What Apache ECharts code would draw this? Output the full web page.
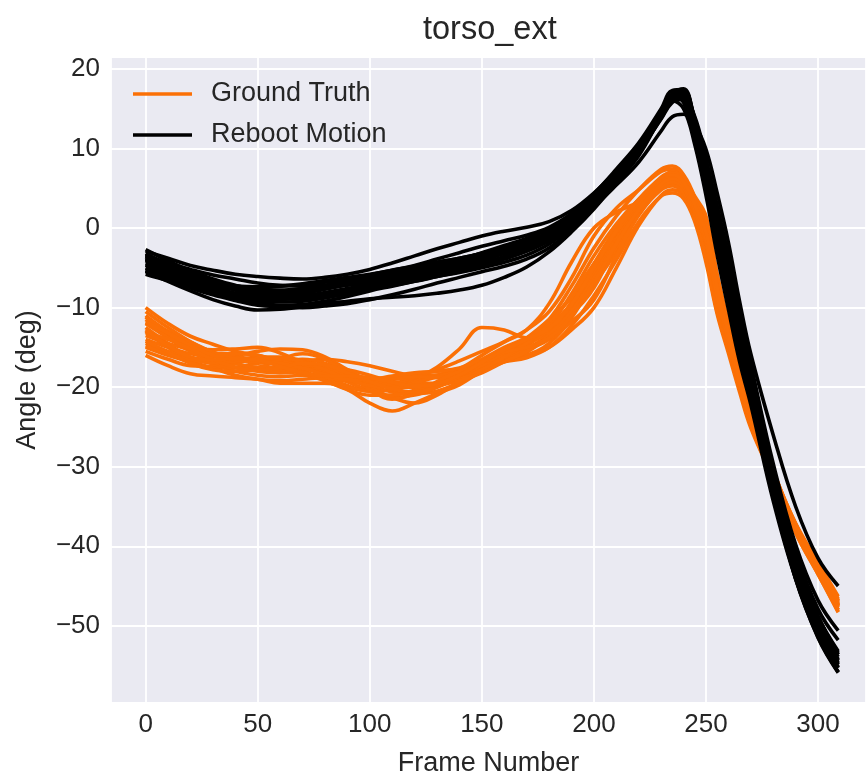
<!DOCTYPE html>
<html>
<head>
<meta charset="utf-8">
<title>torso_ext</title>
<script src="https://cdn.jsdelivr.net/npm/echarts@6/dist/echarts.min.js"></script>
<style>
    html, body { margin: 0; padding: 0; background: #fff; }
    #chart { width: 866px; height: 782px; }
</style>
</head>
<body>
<div id="chart"></div>
<script>
var frames = [0,10,20,30,40,50,60,70,80,90,100,110,120,130,140,150,160,170,180,190,200,210,220,230,235,240,245,250,255,260,265,270,280,290,300,309];

// Ground Truth runs (deg)
var gt01 = [-10.0,-12.0,-13.6,-14.6,-15.5,-16.0,-16.7,-16.7,-16.5,-16.8,-17.3,-18.0,-18.5,-18.5,-17.7,-16.0,-14.3,-12.8,-10.5,-6.3,-1.0,2.5,4.8,7.1,7.4,6.4,3.3,1.2,-5.8,-11.9,-17.9,-23.3,-30.5,-37.5,-42.5,-47.0];
var gt02 = [-16.0,-17.3,-18.3,-18.6,-18.8,-19.0,-19.5,-19.5,-19.5,-20.3,-22.0,-23.0,-22.0,-20.8,-19.7,-18.0,-16.8,-16.0,-15.0,-12.8,-10.0,-5.0,0.3,4.1,4.8,4.2,2.0,0.2,-6.5,-12.4,-18.4,-23.8,-31.3,-38.3,-43.5,-48.2];
var gt03 = [-12.0,-13.0,-14.3,-15.6,-16.5,-16.7,-16.7,-16.5,-17.0,-18.3,-19.5,-19.8,-19.0,-17.5,-15.2,-12.5,-12.8,-13.8,-13.0,-9.3,-4.5,0,3.6,6.1,6.4,5.4,1.8,-2.8,-9.8,-15.1,-20.2,-24.8,-31.2,-37.5,-42.7,-47.5];
var gt04 = [-14.0,-15.0,-15.8,-16.1,-16.0,-15.5,-15.2,-15.3,-16.2,-17.8,-19.2,-20.0,-20.0,-19.5,-18.5,-17.0,-15.5,-14.3,-12.2,-8.3,-3.5,0.5,3.6,5.9,6.3,5.4,2.8,-0.8,-8.3,-14.2,-19.7,-24.6,-31.2,-37.8,-43.0,-47.6];
var gt05 = [-15.0,-16.0,-16.8,-17.6,-18.5,-19.0,-19.2,-19.0,-18.8,-19.1,-19.8,-20.6,-20.8,-20.5,-19.4,-17.8,-16.6,-16.0,-14.5,-11.3,-6.5,-1.5,2.6,5.6,6.3,5.6,3.3,0.5,-6.8,-12.9,-18.8,-24.0,-31.0,-37.7,-42.8,-47.4];
var gt06 = [-11.0,-13.0,-14.6,-15.3,-15.2,-15.0,-15.7,-17.0,-18.3,-19.3,-19.5,-19.0,-18.3,-18.0,-17.7,-16.8,-15.5,-14.0,-11.5,-7.3,-2.5,1.5,4.8,7.4,7.8,6.7,3.8,-1.6,-9.1,-14.7,-20.0,-24.7,-31.2,-37.7,-42.9,-47.5];
var gt07 = [-13.0,-15.0,-16.8,-17.6,-17.5,-17.0,-16.9,-17.2,-18.0,-19.3,-20.5,-21.3,-21.0,-20.0,-18.7,-17.5,-16.8,-16.3,-15.0,-12.3,-8.5,-4.0,0.8,4.0,4.4,3.7,0.8,-4.3,-10.8,-15.7,-20.6,-25.1,-31.5,-37.9,-42.9,-47.4];
var gt08 = [-11.5,-13.5,-15.3,-16.6,-17.5,-18.0,-18.2,-18.0,-17.5,-17.8,-18.5,-19.3,-19.5,-19.5,-19.0,-17.5,-15.6,-13.8,-11.5,-8.8,-5.5,-1.8,2.0,5.3,6.1,5.4,2.8,-0.5,-7.5,-13.2,-18.8,-23.8,-30.6,-37.2,-42.3,-46.8];
var gt09 = [-15.5,-16.5,-17.3,-17.4,-17.0,-16.5,-16.7,-17.5,-18.5,-19.8,-20.5,-20.3,-19.3,-18.5,-17.9,-17.3,-16.6,-15.6,-13.5,-10.3,-7.0,-3.0,1.6,5.1,5.8,5.0,1.9,-3.1,-9.8,-14.9,-20.0,-24.8,-31.5,-38.1,-43.3,-48.0];
var gt10 = [-12.5,-14.5,-16.3,-16.9,-16.7,-16.2,-16.2,-16.7,-17.7,-18.8,-19.5,-19.5,-18.7,-17.8,-16.7,-15.5,-14.3,-12.8,-9.5,-4.3,0,2.0,3.3,5.3,5.6,4.7,1.6,-3.8,-10.5,-15.3,-20.2,-24.7,-31.2,-37.5,-42.7,-47.4];
var gt11 = [-14.5,-15.5,-16.3,-17.1,-18.0,-18.5,-18.7,-18.5,-18.5,-18.8,-19.0,-19.0,-18.7,-18.5,-18.2,-17.5,-16.3,-14.8,-12.5,-9.8,-6.5,-2.5,1.8,4.8,5.3,4.5,2.0,-1.0,-7.8,-13.6,-19.4,-24.5,-31.6,-38.3,-43.5,-48.3];
var gt12 = [-10.5,-12.5,-14.3,-15.6,-16.2,-16.5,-17.2,-18.0,-19.0,-20.0,-20.5,-20.3,-19.5,-18.7,-17.9,-17.0,-16.1,-15.3,-14.0,-11.8,-9.0,-3.5,1.8,6.1,7.1,6.2,4.0,1.5,-6.1,-12.4,-18.4,-23.6,-30.8,-37.3,-42.2,-46.6];
var gt13 = [-13.5,-14.5,-15.3,-16.1,-17.0,-17.5,-17.5,-17.2,-17.5,-18.5,-20.0,-21.3,-22.0,-21.0,-19.2,-17.0,-15.3,-14.3,-13.0,-10.8,-7.5,-2.0,2.8,6.1,6.6,5.7,2.5,-2.1,-9.3,-14.6,-19.9,-24.8,-31.5,-38.1,-43.3,-48.0];
var gt14 = [-11.2,-13.3,-15.0,-15.8,-15.8,-16.0,-16.9,-18.0,-18.8,-19.1,-19.0,-18.8,-18.7,-18.8,-18.5,-17.3,-15.8,-14.6,-13.0,-10.3,-6.0,-1.0,3.3,6.4,6.9,5.9,3.5,-0.1,-7.3,-13.1,-18.9,-24.0,-30.7,-37.1,-42.0,-46.3];
var gt15 = [-12.0,-13.8,-15.5,-16.8,-17.6,-17.5,-16.5,-15.8,-16.5,-18.3,-20.3,-21.5,-20.8,-19.3,-18.0,-17.3,-16.5,-15.2,-13.3,-10.0,-5.3,-0.5,3.3,6.0,6.5,5.6,2.5,-1.0,-8.0,-13.7,-19.3,-24.3,-31.0,-37.6,-42.6,-47.2];
var gt16 = [-14.8,-15.8,-16.5,-16.9,-16.8,-16.4,-16.3,-16.8,-17.8,-19.0,-19.8,-20.0,-19.8,-19.6,-19.0,-17.8,-16.2,-14.5,-12.0,-8.5,-4.5,-0.5,3.0,5.5,5.9,5.0,2.0,-1.8,-8.8,-14.3,-19.7,-24.5,-31.2,-37.7,-42.8,-47.3];
var gt17 = [-11.8,-13.2,-14.8,-16.0,-16.6,-16.8,-17.0,-17.6,-18.4,-19.0,-19.0,-18.6,-18.2,-18.0,-17.6,-16.5,-15.0,-13.8,-12.3,-9.5,-5.8,-1.5,2.5,5.4,6.0,5.3,2.6,-0.8,-7.7,-13.4,-19.1,-24.1,-30.9,-37.3,-42.3,-46.8];
var gt18 = [-14.2,-15.6,-17.0,-17.8,-18.0,-17.8,-17.8,-18.3,-19.2,-20.3,-21.0,-21.0,-20.4,-19.8,-19.2,-18.2,-16.8,-15.5,-13.5,-10.5,-6.3,-1.8,2.2,5.2,5.8,5.0,2.0,-1.8,-8.7,-14.2,-19.6,-24.5,-31.3,-37.9,-43.0,-47.7];
var gt19 = [-13.2,-14.0,-15.2,-16.5,-17.5,-17.9,-17.6,-17.0,-17.2,-18.2,-19.3,-20.2,-20.6,-20.0,-18.6,-16.8,-15.6,-15.0,-13.8,-11.0,-6.8,-2.0,2.3,5.5,6.2,5.4,2.4,-1.4,-8.4,-14.0,-19.5,-24.4,-31.1,-37.6,-42.6,-47.1];
var gt20 = [-12.8,-14.8,-16.2,-16.6,-16.4,-16.6,-17.4,-18.2,-18.6,-18.6,-18.8,-19.4,-19.9,-19.6,-18.5,-16.9,-15.3,-14.0,-12.6,-9.6,-5.0,-0.3,3.6,6.3,6.7,5.8,2.9,-0.6,-7.5,-13.3,-19.0,-24.0,-30.8,-37.3,-42.3,-46.9];

// Reboot Motion runs (deg)
var rm01 = [-2.9,-3.8,-4.7,-5.3,-5.8,-6.1,-6.3,-6.4,-6.2,-5.8,-5.2,-4.4,-3.5,-2.6,-1.8,-1.0,-0.4,0.1,0.8,2.2,4.4,7.2,10.3,14.5,16.7,17.3,13.6,8.2,2.1,-4.3,-11.5,-17.7,-30.3,-41.8,-50.1,-54.8];
var rm02 = [-5.4,-6.7,-7.9,-9.0,-9.8,-10.3,-10.2,-9.9,-9.5,-9.2,-8.9,-8.7,-8.5,-8.2,-7.8,-7.2,-6.2,-4.9,-3.0,-0.5,2.4,5.7,9.1,14.0,16.0,15.0,10.5,4.1,-3.4,-10.2,-16.8,-22.2,-34.3,-44.1,-51.1,-55.2];
var rm03 = [-3.8,-5.0,-6.1,-6.9,-7.6,-8.1,-8.2,-8.0,-7.6,-7.1,-6.5,-5.9,-5.3,-4.7,-4.2,-3.6,-3.0,-2.3,-1.3,0.4,2.7,5.4,8.3,12.2,14.0,14.3,13.0,9.9,4.4,-1.8,-9.2,-15.8,-26.0,-35.0,-41.5,-45.0];
var rm04 = [-2.7,-4.1,-5.4,-6.4,-7.2,-7.7,-7.8,-7.6,-7.2,-6.7,-6.1,-5.5,-4.9,-4.3,-3.8,-3.2,-2.5,-1.7,-0.5,1.6,4.3,7.4,10.7,15.0,17.3,17.4,12.7,7.0,0.5,-6.0,-13.0,-19.0,-31.8,-43.3,-51.2,-55.8];
var rm05 = [-5.8,-6.6,-7.3,-7.9,-8.4,-8.7,-8.9,-8.9,-8.7,-8.3,-7.7,-7.0,-6.3,-5.6,-5.0,-4.4,-3.7,-2.9,-1.6,0.5,3.2,6.3,9.6,14.3,16.4,15.8,10.9,4.7,-2.6,-9.4,-16.0,-21.6,-33.8,-44.0,-51.5,-55.9];
var rm06 = [-3.4,-4.4,-5.2,-5.9,-6.4,-6.9,-7.2,-7.3,-7.2,-7.0,-6.6,-6.1,-5.5,-4.8,-4.0,-3.1,-2.2,-1.3,-0.1,1.7,4.1,6.9,10.0,14.2,16.5,17.1,13.1,7.6,1.3,-5.2,-12.2,-18.4,-31.6,-41.8,-49.3,-53.6];
var rm07 = [-4.7,-5.9,-7.0,-8.0,-8.8,-9.4,-9.7,-9.6,-9.2,-8.6,-7.9,-7.3,-6.7,-6.1,-5.6,-5.0,-4.3,-3.4,-2.0,0.2,3.1,6.3,9.7,14.2,16.5,16.2,11.4,5.3,-1.8,-8.5,-15.3,-20.9,-33.6,-43.6,-50.9,-55.3];
var rm08 = [-4.0,-4.9,-5.7,-6.6,-7.4,-8.0,-8.4,-8.5,-8.3,-7.9,-7.2,-6.4,-5.6,-4.8,-4.1,-3.5,-2.9,-2.2,-1.1,0.8,3.4,6.5,9.8,14.1,16.4,16.9,12.9,7.3,0.9,-5.6,-12.6,-18.7,-32.5,-42.7,-50.1,-54.4];
var rm09 = [-5.1,-6.3,-7.5,-8.4,-9.1,-9.7,-9.9,-10.0,-9.8,-9.5,-9.0,-8.4,-7.7,-6.9,-6.2,-5.5,-4.8,-3.9,-2.5,-0.2,2.8,6.1,9.5,13.8,16.0,16.4,12.3,6.4,-0.3,-6.8,-13.8,-19.6,-32.3,-42.3,-49.7,-54.2];
var rm10 = [-3.2,-4.6,-5.9,-6.8,-7.3,-7.5,-7.3,-7.0,-6.6,-6.2,-5.8,-5.3,-4.7,-3.9,-3.1,-2.3,-1.6,-0.9,0.1,1.8,4.1,7.0,10.2,14.5,16.9,17.5,13.4,7.9,1.7,-4.7,-11.9,-18.0,-31.3,-41.5,-48.8,-53.2];
var rm11 = [-4.4,-5.3,-6.1,-7.0,-7.8,-8.4,-8.7,-8.7,-8.4,-7.9,-7.3,-6.8,-6.4,-5.9,-5.4,-4.6,-3.6,-2.5,-1.0,1.1,3.8,6.8,9.9,14.0,16.0,16.4,12.0,6.1,-0.7,-7.3,-14.1,-20.0,-32.6,-42.7,-50.0,-54.3];
var rm12 = [-3.6,-5.1,-6.5,-7.6,-8.5,-9.1,-9.3,-9.2,-8.8,-8.2,-7.5,-6.7,-5.9,-5.1,-4.4,-3.7,-3.0,-2.1,-0.8,1.3,4.0,7.1,10.3,14.4,16.5,16.8,13.8,8.5,2.5,-3.9,-11.1,-17.4,-30.3,-40.6,-47.9,-51.8];
var rm13 = [-5.5,-6.2,-6.8,-7.3,-7.7,-8.0,-8.0,-7.8,-7.5,-7.2,-6.9,-6.6,-6.2,-5.7,-5.0,-4.1,-3.1,-2.0,-0.6,1.4,3.9,6.7,9.7,13.7,15.8,16.2,14.0,8.7,2.8,-3.5,-10.7,-17.1,-29.6,-39.8,-46.8,-50.6];
var rm14 = [-4.1,-5.5,-6.7,-7.7,-8.2,-8.4,-8.2,-7.8,-7.4,-7.1,-6.8,-6.5,-6.1,-5.5,-4.8,-4.0,-3.2,-2.4,-1.3,0.7,3.4,6.6,10.0,14.4,16.8,16.9,11.8,5.8,-1.1,-7.7,-14.5,-20.3,-32.8,-44.1,-51.4,-55.8];
var rm15 = [-3.6,-4.8,-5.9,-6.8,-7.5,-8.0,-8.3,-8.4,-8.2,-7.8,-7.3,-6.7,-6.1,-5.4,-4.7,-3.9,-3.0,-2.0,-0.7,1.3,3.9,6.9,10.1,14.5,16.7,17.0,12.9,7.3,0.9,-5.6,-12.6,-18.7,-31.6,-41.8,-49.2,-53.9];
var rm16 = [-5.0,-6.2,-7.2,-7.9,-8.4,-8.6,-8.5,-8.2,-7.7,-7.1,-6.4,-5.8,-5.2,-4.6,-4.0,-3.4,-2.6,-1.7,-0.5,1.4,3.9,6.8,9.9,14.0,16.2,16.6,12.4,6.6,0,-6.5,-13.5,-19.4,-32.2,-42.5,-50.0,-54.6];
var rm17 = [-3.9,-5.2,-6.4,-7.4,-8.2,-8.7,-8.8,-8.7,-8.4,-8.0,-7.4,-6.8,-6.1,-5.4,-4.6,-3.8,-3.0,-2.1,-0.9,1.1,3.7,6.7,9.9,14.3,16.6,17.1,13.1,7.6,1.1,-5.4,-12.4,-18.5,-31.2,-41.4,-48.9,-53.4];
var rm18 = [-4.6,-5.6,-6.4,-7.0,-7.3,-7.4,-7.3,-7.1,-6.8,-6.4,-5.9,-5.3,-4.8,-4.3,-3.8,-3.2,-2.5,-1.7,-0.6,1.3,3.8,6.7,9.8,14.0,16.3,16.6,12.2,6.3,-0.4,-6.9,-13.8,-19.7,-32.4,-42.6,-50.2,-54.9];
var rm19 = [-3.3,-4.5,-5.6,-6.6,-7.4,-8.0,-8.4,-8.6,-8.5,-8.2,-7.7,-7.2,-6.7,-6.1,-5.5,-4.8,-3.9,-2.9,-1.5,0.6,3.3,6.4,9.7,14.1,16.3,16.9,13.3,7.8,1.5,-5.0,-12.0,-18.2,-31.0,-41.3,-48.8,-53.6];
var rm20 = [-5.3,-6.4,-7.4,-8.2,-8.8,-9.1,-9.0,-8.6,-8.1,-7.6,-7.1,-6.6,-6.2,-5.7,-5.1,-4.4,-3.6,-2.6,-1.3,0.7,3.4,6.4,9.6,14.0,16.1,16.3,11.8,5.9,-0.9,-7.4,-14.3,-20.2,-32.9,-43.0,-50.6,-55.2];

var groundTruth = [gt01,gt02,gt03,gt04,gt05,gt06,gt07,gt08,gt09,gt10,gt11,gt12,gt13,gt14,gt15,gt16,gt17,gt18,gt19,gt20];
var rebootMotion = [rm01,rm02,rm03,rm04,rm05,rm06,rm07,rm08,rm09,rm10,rm11,rm12,rm13,rm14,rm15,rm16,rm17,rm18,rm19,rm20];

var ORANGE = '#FB7006',
    BLACK = '#000000',
    TEXT = '#262626',
    FONT = 'Liberation Sans, Arial, sans-serif';

function pairs(values){
    return frames.map(function(f, i){ return [f, values[i]]; });
}
function minus(v){
    return v < 0 ? '\u2212' + Math.abs(v) : String(v);
}
function run(name, color, values){
    return {
        name: name,
        type: 'line',
        data: pairs(values),
        symbol: 'none',
        smooth: 0.4,
        silent: true,
        lineStyle: { width: 3.6, color: color },
        itemStyle: { color: color }
    };
}

var series = [];
groundTruth.forEach(function(v){ series.push(run('Ground Truth', ORANGE, v)); });
rebootMotion.forEach(function(v){ series.push(run('Reboot Motion', BLACK, v)); });

var chart = echarts.init(document.getElementById('chart'));
chart.setOption({
    animation: false,
    backgroundColor: '#ffffff',
    title: {
        text: 'torso_ext',
        left: 418,
        top: 9,
        textStyle: { fontSize: 32.5, fontWeight: 'normal', color: TEXT, fontFamily: FONT }
    },
    legend: {
        data: ['Ground Truth', 'Reboot Motion'],
        orient: 'vertical',
        left: 133,
        top: 79,
        padding: 0,
        icon: 'rect',
        itemWidth: 59,
        itemHeight: 3.6,
        itemGap: 11,
        selectedMode: false,
        textStyle: { fontSize: 27, lineHeight: 30, color: TEXT, fontFamily: FONT, padding: [0, 0, 0, 14] }
    },
    grid: {
        left: 111, right: 0, top: 57, bottom: 75,
        show: true, backgroundColor: '#EAEAF2', borderWidth: 0
    },
    xAxis: {
        type: 'value',
        min: -15.45,
        max: 321.4,
        minInterval: 50,
        maxInterval: 50,
        name: 'Frame Number',
        nameLocation: 'middle',
        nameGap: 47,
        nameTextStyle: { fontSize: 27, color: TEXT, fontFamily: FONT },
        axisLine: { show: false },
        axisTick: { show: false },
        axisLabel: { showMinLabel: false, showMaxLabel: false, margin: 9, fontSize: 26, color: TEXT, fontFamily: FONT, formatter: minus },
        splitLine: { show: true, lineStyle: { color: '#ffffff', width: 1.8 } }
    },
    yAxis: {
        type: 'value',
        min: -59.7,
        max: 21.5,
        minInterval: 10,
        maxInterval: 10,
        name: 'Angle (deg)',
        nameLocation: 'middle',
        nameGap: 70,
        nameTextStyle: { fontSize: 27, color: TEXT, fontFamily: FONT },
        axisLine: { show: false },
        axisTick: { show: false },
        axisLabel: { showMinLabel: false, showMaxLabel: false, margin: 11, fontSize: 26, color: TEXT, fontFamily: FONT, formatter: minus },
        splitLine: { show: true, lineStyle: { color: '#ffffff', width: 1.8 } }
    },
    series: series
});
</script>
</body>
</html>
